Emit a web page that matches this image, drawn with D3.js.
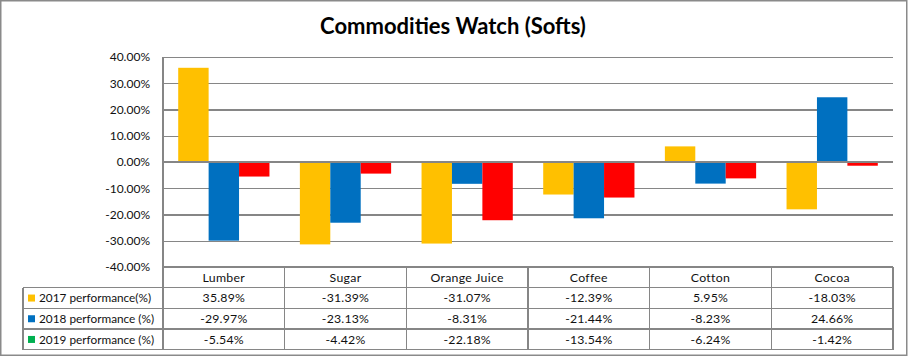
<!DOCTYPE html>
<html><head><meta charset="utf-8">
<script src="https://cdn.jsdelivr.net/npm/d3@7"></script>
<style>
html,body{margin:0;padding:0;background:#fff;}
svg text{font-family:Lato,"Open Sans",sans-serif;}
</style></head>
<body><svg id="c" width="908" height="357"></svg>
<script>
const title = "Commodities Watch (Softs)";
const categories = ["Lumber","Sugar","Orange Juice","Coffee","Cotton","Cocoa"];
const seriesNames = ["2017 performance(%)","2018 performance (%)","2019 performance (%)"];
const perf2017 = [35.89,-31.39,-31.07,-12.39,5.95,-18.03];
const perf2018 = [-29.97,-23.13,-8.31,-21.44,-8.23,24.66];
const perf2019 = [-5.54,-4.42,-22.18,-13.54,-6.24,-1.42];
const yTicks = [-40,-30,-20,-10,0,10,20,30,40];
const barColors = ["#FFC000","#0070C0","#FF0000"];
const keyColors = ["#FFC000","#0070C0","#00B050"];

const seriesValues = [perf2017, perf2018, perf2019];
const svg = d3.select("#c");
const grid = "#868686";

// outer border
svg.append("rect").attr("x",0.75).attr("y",0.75).attr("width",906).attr("height",354.5)
  .attr("fill","#fff").attr("stroke","#8a8a8a").attr("stroke-width",1.5);

const L=163, R=893, T=57, B=267;
const x0 = d3.scaleBand().domain(categories).range([L,R]).padding(0);
const x1 = d3.scaleBand().domain(seriesNames).range([0,x0.bandwidth()]).paddingInner(0).paddingOuter(0.5);
const y = d3.scaleLinear().domain([-40,40]).range([B,T]);

// gridlines + tick labels
const gAxis = svg.append("g").attr("transform",`translate(${L},0)`)
  .call(d3.axisLeft(y).tickValues(yTicks).tickSize(-(R-L)).tickPadding(13).tickFormat(d=>d.toFixed(2)+"%"));
gAxis.select(".domain").remove();
gAxis.selectAll(".tick line").attr("stroke",grid).attr("stroke-width",1.3).attr("shape-rendering","crispEdges");
gAxis.selectAll(".tick text").attr("fill","#111").style("font-size","12px").style("font-family","Lato");

// bars
categories.forEach((c,i)=>{
  seriesValues.forEach((vals,s)=>{
    const v = vals[i];
    svg.append("rect")
      .attr("x", x0(c)+x1(seriesNames[s]))
      .attr("width", x1.bandwidth())
      .attr("y", y(Math.max(0,v)))
      .attr("height", Math.abs(y(v)-y(0)))
      .attr("fill", barColors[s]);
  });
});
// zero line above bars
svg.append("line").attr("x1",L).attr("x2",R).attr("y1",y(0)).attr("y2",y(0))
  .attr("stroke",grid).attr("stroke-width",1.3).attr("shape-rendering","crispEdges");

// table
const rowH = 20.7;
const tTop = B, legL = 23;
const lines = svg.append("g").attr("stroke",grid).attr("stroke-width",1.3).attr("shape-rendering","crispEdges");
lines.append("line").attr("x1",L).attr("x2",L).attr("y1",T).attr("y2",tTop+4*rowH);
for(let r=0;r<=4;r++){
  const yy = tTop + r*rowH;
  lines.append("line").attr("x1", r===0?L:legL).attr("x2",R).attr("y1",yy).attr("y2",yy);
}
categories.forEach((c,i)=>{
  const xx = x0(c)+x0.bandwidth();
  lines.append("line").attr("x1",xx).attr("x2",xx).attr("y1",tTop).attr("y2",tTop+4*rowH);
});
lines.append("line").attr("x1",legL).attr("x2",legL).attr("y1",tTop+rowH).attr("y2",tTop+4*rowH);

const fs = "12.3px";
categories.forEach((c,i)=>{
  svg.append("text").attr("x",x0(c)+x0.bandwidth()/2).attr("y",tTop+rowH/2).attr("dy","0.35em")
    .attr("text-anchor","middle").style("font-size",fs).style("letter-spacing","0.3px").attr("fill","#111").text(c);
  seriesValues.forEach((vals,s)=>{
    svg.append("text").attr("x",x0(c)+x0.bandwidth()/2).attr("y",tTop+(s+1.5)*rowH).attr("dy","0.35em")
      .attr("text-anchor","middle").style("font-size",fs).style("letter-spacing","0.2px").attr("fill","#111").text(vals[i].toFixed(2)+"%");
  });
});
seriesNames.forEach((n,s)=>{
  const cy = tTop+(s+1.5)*rowH;
  svg.append("rect").attr("x",28).attr("y",cy-3.5).attr("width",7).attr("height",7).attr("fill",keyColors[s]);
  svg.append("text").attr("x",39).attr("y",cy).attr("dy","0.35em").style("font-size","11.8px").attr("fill","#111").text(n);
});

// title
svg.append("text").attr("x",453).attr("y",26).attr("dy","0.35em").attr("text-anchor","middle")
  .style("font-size","22px").style("font-weight","bold").attr("fill","#000").text(title);
</script></body></html>
